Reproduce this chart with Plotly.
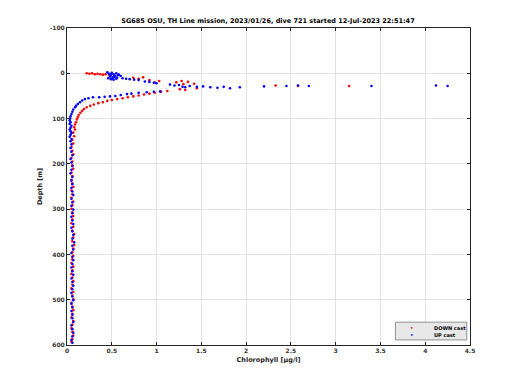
import plotly.graph_objects as go

title_text = "SG685 OSU, TH Line mission, 2023/01/26, dive 721 started 12-Jul-2023 22:51:47"
x_label = "Chlorophyll [µg/l]"
y_label = "Depth [m]"
x_ticks = [0, 0.5, 1, 1.5, 2, 2.5, 3, 3.5, 4, 4.5]
x_tick_labels = ["0", "0.5", "1", "1.5", "2", "2.5", "3", "3.5", "4", "4.5"]
y_ticks = [-100, 0, 100, 200, 300, 400, 500, 600]
y_tick_labels = ["-100", "0", "100", "200", "300", "400", "500", "600"]
legend_names = ["DOWN cast", "UP cast"]
cast_colors = ["#ff0000", "#0000ff"]

# DOWN cast (red)
down_chl = [0.22, 0.25, 0.28, 0.31, 0.34, 0.37, 0.40, 0.43, 0.47,
            0.74, 0.80, 0.85, 0.92, 0.98, 1.03, 1.22, 1.28, 1.30, 1.35, 1.42, 1.26, 1.32,
            2.33, 2.58, 3.15, 1.45,
            1.12, 1.05, 0.98, 0.92, 0.86, 0.80, 0.74, 0.68, 0.62, 0.56, 0.50, 0.45,
            0.40, 0.35, 0.30, 0.26, 0.22, 0.19, 0.17, 0.15, 0.13, 0.12, 0.11, 0.10,
            0.09, 0.08, 0.09, 0.07, 0.08, 0.06, 0.07, 0.05, 0.06, 0.07, 0.05, 0.06,
            0.06, 0.07, 0.05, 0.06, 0.05, 0.06, 0.07, 0.05, 0.06, 0.05, 0.07, 0.06,
            0.05, 0.06, 0.07, 0.06, 0.05, 0.07, 0.06, 0.08, 0.07, 0.06, 0.08, 0.07,
            0.06, 0.07, 0.06, 0.05, 0.07, 0.06, 0.05, 0.06, 0.07, 0.06, 0.05, 0.07,
            0.06, 0.07, 0.05, 0.06, 0.07, 0.06, 0.05, 0.07, 0.06, 0.05,
            0.06, 0.07, 0.06, 0.05]
down_depth = [0, 1, 0, 2, 1, 2, 3, 2, 4,
              10, 12, 9, 15, 20, 17, 20, 17, 24, 19, 23, 35, 37,
              27, 28, 28, 33,
              39, 41, 43, 45, 47, 49, 51, 53, 55, 57, 59, 61,
              64, 66, 69, 72, 75, 79, 83, 87, 92, 97, 102, 108,
              113, 119, 124, 131, 139, 147, 155, 163, 171, 179, 187, 195,
              203, 211, 219, 227, 235, 243, 251, 259, 267, 275, 283, 291,
              299, 307, 315, 323, 331, 339, 347, 355, 363, 371, 379, 387,
              395, 403, 411, 419, 427, 435, 443, 451, 459, 467, 475, 483,
              491, 499, 507, 515, 523, 531, 539, 547, 555, 563,
              571, 579, 587, 593]

# UP cast (blue)
up_chl = [0.45, 0.47, 0.49, 0.50, 0.52, 0.53, 0.55, 0.57, 0.48, 0.51, 0.54, 0.56,
          0.46, 0.50, 0.53, 0.58, 0.60, 0.49, 0.52, 0.55, 0.62, 0.66, 0.70, 0.75,
          0.80, 0.87, 0.92, 0.97, 1.00, 1.15, 1.20, 1.25, 1.29, 1.32, 1.37, 1.45,
          1.52, 1.60, 1.68, 1.75, 1.82, 1.93, 2.20, 2.45, 2.58, 2.70, 3.40, 4.12, 4.25,
          1.04, 0.97, 0.89, 0.80, 0.72, 0.67, 0.60, 0.54, 0.48, 0.42, 0.36, 0.29,
          0.24, 0.20, 0.17, 0.145, 0.12, 0.10, 0.09, 0.07, 0.06, 0.05, 0.04, 0.035,
          0.03, 0.04, 0.03, 0.05, 0.04, 0.03, 0.04, 0.05, 0.04, 0.03, 0.05, 0.04,
          0.05, 0.04, 0.05, 0.06, 0.04, 0.05, 0.06, 0.05, 0.04, 0.06, 0.05, 0.06,
          0.05, 0.06, 0.07, 0.05, 0.06, 0.05, 0.07, 0.06, 0.05, 0.06, 0.07, 0.05,
          0.06, 0.07, 0.06, 0.08, 0.06, 0.07, 0.05, 0.06, 0.07, 0.06, 0.05, 0.06,
          0.07, 0.05, 0.06, 0.07, 0.06, 0.05, 0.06, 0.07, 0.05, 0.06, 0.05, 0.06,
          0.06, 0.07, 0.05, 0.06, 0.07, 0.06, 0.05, 0.06]
up_depth = [-2, 1, 3, -1, 2, 5, 0, 4, 7, 9, 6, 10,
            11, 12, 8, 3, 6, 13, 14, 12, 11, 12, 13, 14,
            15, 18, 19, 21, 22, 25, 27, 26, 30, 31, 28, 30,
            29, 31, 32, 30, 33, 31, 29, 28, 27, 28, 28, 27, 28,
            40, 41, 42, 43, 45, 46, 48, 50, 51, 52, 53, 53,
            55, 57, 60, 64, 68, 72, 75, 80, 85, 90, 95, 100,
            104, 108, 112, 116, 120, 124, 128, 132, 136, 140, 145, 150,
            157, 165, 173, 181, 189, 197, 205, 213, 221, 229, 237, 245,
            253, 261, 269, 277, 285, 293, 301, 309, 317, 325, 333, 341,
            349, 357, 365, 373, 381, 389, 397, 405, 413, 421, 429, 437,
            445, 453, 461, 469, 477, 485, 493, 501, 509, 517, 525, 533,
            541, 549, 557, 565, 573, 581, 589, 595]

font_family = "DejaVu Sans"

fig = go.Figure()
fig.add_trace(go.Scatter(x=down_chl, y=down_depth, mode="markers", name=legend_names[0],
                         marker=dict(color=cast_colors[0], size=2.6, line=dict(width=0)),
                         showlegend=False))
fig.add_trace(go.Scatter(x=up_chl, y=up_depth, mode="markers", name=legend_names[1],
                         marker=dict(color=cast_colors[1], size=2.6, line=dict(width=0)),
                         showlegend=False))

axis_common = dict(showgrid=True, gridcolor="#e3e3e3", gridwidth=1, automargin=False,
                   showline=True, linecolor="#262626", linewidth=1, mirror="ticks",
                   ticks="inside", ticklen=3, tickcolor="#262626", zeroline=False,
                   tickfont=dict(family=font_family, size=6, color="#333333", weight="bold"))

# legend box drawn in paper coordinates (bottom-right of the axes)
lx0, lx1, ly0, ly1 = 0.815, 0.992, 0.016, 0.072
shapes = [dict(type="rect", xref="paper", yref="paper", x0=lx0, x1=lx1, y0=ly0, y1=ly1,
               fillcolor="#e8e8e8", line=dict(color="#7a7a7a", width=0.8), layer="above")]
annotations = []
row_y = [ly1 - (ly1 - ly0) * 0.3, ly1 - (ly1 - ly0) * 0.72]
for name, col, yy in zip(legend_names, cast_colors, row_y):
    annotations.append(dict(xref="paper", yref="paper", x=lx0 + 0.042, y=yy, text="•",
                            showarrow=False, xanchor="center", yanchor="middle",
                            font=dict(family=font_family, size=6, color=col)))
    annotations.append(dict(xref="paper", yref="paper", x=lx0 + 0.09, y=yy, text=name,
                            showarrow=False, xanchor="left", yanchor="middle",
                            font=dict(family=font_family, size=5, color="#000000", weight="bold")))

fig.update_layout(
    width=520, height=390,
    margin=dict(l=59, r=58, t=20, b=53, autoexpand=False),
    paper_bgcolor="white", plot_bgcolor="white",
    title=dict(text=title_text, x=0.5, xanchor="center", y=0.968, yanchor="middle",
               font=dict(family=font_family, size=6.5, color="#000000", weight="bold"),
               automargin=False),
    xaxis=dict(range=[0, 4.5], tickvals=x_ticks, ticktext=x_tick_labels,
               title=dict(text=x_label, standoff=4,
                          font=dict(family=font_family, size=6.5, color="#262626", weight="bold")),
               **axis_common),
    yaxis=dict(range=[600, -100], tickvals=y_ticks, ticktext=y_tick_labels,
               title=dict(text=y_label, standoff=6,
                          font=dict(family=font_family, size=6.5, color="#262626", weight="bold")),
               **axis_common),
    shapes=shapes,
    annotations=annotations,
    showlegend=False,
)

fig.write_html("out.html")
